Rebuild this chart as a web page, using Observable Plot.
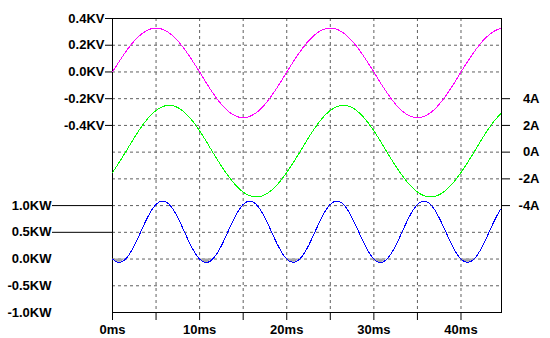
<!DOCTYPE html>
<html><head><meta charset="utf-8">
<script src="https://cdn.jsdelivr.net/npm/d3@7"></script>
<script src="https://cdn.jsdelivr.net/npm/@observablehq/plot@0.6"></script>
<style>
body{margin:0;background:#fff;}
#chart{position:relative;width:550px;height:338px;background:#fff;}
#chart svg{position:absolute;left:0;top:0;}
</style></head><body><div id="chart"></div>
<script>
const timeMs = [0,0.5,1,1.5,2,2.5,3,3.5,4,4.5,5,5.5,6,6.5,7,7.5,8,8.5,9,9.5,
10,10.5,11,11.5,12,12.5,13,13.5,14,14.5,15,15.5,16,16.5,17,17.5,18,18.5,19,19.5,
20,20.5,21,21.5,22,22.5,23,23.5,24,24.5,25,25.5,26,26.5,27,27.5,28,28.5,29,29.5,
30,30.5,31,31.5,32,32.5,33,33.5,34,34.5,35,35.5,36,36.5,37,37.5,38,38.5,39,39.5,
40,40.5,41,41.5,42,42.5,43,43.5,44,44.5,45];

const voltageKV = [0,0.051,0.101,0.149,0.193,0.232,0.265,0.292,0.312,0.324,0.328,0.324,0.312,0.292,0.265,0.232,0.193,0.149,0.101,0.051,
0,-0.054,-0.106,-0.155,-0.201,-0.242,-0.277,-0.305,-0.325,-0.338,-0.342,-0.338,-0.325,-0.305,-0.277,-0.242,-0.201,-0.155,-0.106,-0.054,
0,0.051,0.101,0.149,0.193,0.232,0.265,0.292,0.312,0.324,0.328,0.324,0.312,0.292,0.265,0.232,0.193,0.149,0.101,0.051,
0,-0.054,-0.106,-0.155,-0.201,-0.242,-0.277,-0.305,-0.325,-0.338,-0.342,-0.338,-0.325,-0.305,-0.277,-0.242,-0.201,-0.155,-0.106,-0.054,
0,0.051,0.101,0.149,0.193,0.232,0.265,0.292,0.312,0.324,0.328];

const currentA = [-1.521,-1.035,-0.524,0,0.547,1.082,1.589,2.057,2.475,2.832,3.119,3.329,3.457,3.5,3.457,3.329,3.119,2.832,2.475,2.057,
1.589,1.082,0.547,0,-0.524,-1.035,-1.521,-1.969,-2.369,-2.71,-2.985,-3.186,-3.309,-3.35,-3.309,-3.186,-2.985,-2.71,-2.369,-1.969,
-1.521,-1.035,-0.524,0,0.547,1.082,1.589,2.057,2.475,2.832,3.119,3.329,3.457,3.5,3.457,3.329,3.119,2.832,2.475,2.057,
1.589,1.082,0.547,0,-0.524,-1.035,-1.521,-1.969,-2.369,-2.71,-2.985,-3.186,-3.309,-3.35,-3.309,-3.186,-2.985,-2.71,-2.369,-1.969,
-1.521,-1.035,-0.524,0,0.547,1.082,1.589,2.057,2.475,2.832,3.119];

const powerKW = [0,-0.053,-0.053,0,0.106,0.251,0.422,0.601,0.772,0.918,1.023,1.079,1.079,1.023,0.918,0.772,0.601,0.422,0.251,0.106,
0,-0.058,-0.058,0,0.105,0.25,0.421,0.6,0.771,0.915,1.021,1.076,1.076,1.021,0.916,0.77,0.6,0.421,0.25,0.105,
0,-0.053,-0.053,0,0.106,0.251,0.422,0.601,0.772,0.918,1.023,1.079,1.079,1.023,0.918,0.772,0.601,0.422,0.251,0.106,
0,-0.058,-0.058,0,0.105,0.25,0.421,0.6,0.771,0.915,1.021,1.076,1.076,1.021,0.916,0.77,0.6,0.421,0.25,0.105,
0,-0.053,-0.053,0,0.106,0.251,0.422,0.601,0.772,0.918,1.023];

const xTicks = [0,5,10,15,20,25,30,35,40];
const xTickLabels = ["0ms","","10ms","","20ms","","30ms","","40ms"];
const gridTime = [5,10,15,20,25,30,35,40];
const gridVoltage = [0.2,0,-0.2,-0.4,-0.6,-0.8,-1.0,-1.2,-1.4,-1.6];
const voltageTicks = [0.4,0.2,0,-0.2,-0.4];
const voltageTickLabels = ["0.4KV","0.2KV","0.0KV","-0.2KV","-0.4KV"];
const currentTicks = [4,2,0,-2,-4];
const currentTickLabels = ["4A","2A","0A","-2A","-4A"];
const powerTicksLong = [1.0,0.5];
const powerTicksLongLabels = ["1.0KW","0.5KW"];
const powerTicksBare = [0,-0.5,-1.0];
const powerTicksBareLabels = ["0.0KW","-0.5KW","-1.0KW"];

const rows = timeMs.map((t,i)=>({t, v: voltageKV[i], c: currentA[i], p: powerKW[i]}));

const font = {fontFamily:"'Liberation Sans', Arial, sans-serif", fontSize:"13px", fontWeight:"bold"};
const base = {
  width:550, height:338, marginLeft:112, marginRight:49, marginTop:18, marginBottom:26,
  x:{domain:[0,44.65], axis:null, label:null}
};
const lab = (vals, labels) => d => labels[vals.indexOf(d)];
const gridStyle = {stroke:"#606060", strokeOpacity:1, strokeDasharray:"3,3"};

const pV = Plot.plot({
  ...base,
  style:{...font, background:"#fff", overflow:"visible"},
  y:{domain:[-1.8,0.4], axis:null, label:null},
  marks:[
    Plot.gridX(gridTime, gridStyle),
    Plot.gridY(gridVoltage, gridStyle),
    Plot.frame({stroke:"black"}),
    Plot.axisX(xTicks, {anchor:"bottom", tickSize:8, tickPadding:4, tickFormat: lab(xTicks, xTickLabels), label:null, fontWeight:"bold"}),
    Plot.axisY(voltageTicks, {anchor:"left", tickSize:7, tickPadding:1, tickFormat: lab(voltageTicks, voltageTickLabels), label:null, fontWeight:"bold"}),
    Plot.line(rows, {x:"t", y:"v", stroke:"#ff00ff", strokeWidth:1, curve:"catmull-rom", clip:true, shapeRendering:"crispEdges"})
  ]
});

const pI = Plot.plot({
  ...base,
  style:{...font, background:"transparent", overflow:"visible"},
  y:{domain:[-12,10], axis:null, label:null},
  marks:[
    Plot.axisY(currentTicks, {anchor:"right", tickSize:8, tickPadding:30, textAnchor:"end", tickFormat: lab(currentTicks, currentTickLabels), label:null, fontWeight:"bold"}),
    Plot.line(rows, {x:"t", y:"c", stroke:"#00ff00", strokeWidth:1, curve:"catmull-rom", clip:true, shapeRendering:"crispEdges"})
  ]
});

const pP = Plot.plot({
  ...base,
  style:{...font, background:"transparent", overflow:"visible"},
  y:{domain:[-1,4.5], axis:null, label:null},
  marks:[
    Plot.axisY(powerTicksLong, {anchor:"left", tickSize:60, tickPadding:1, tickFormat: lab(powerTicksLong, powerTicksLongLabels), label:null, fontWeight:"bold"}),
    Plot.axisY(powerTicksBare, {anchor:"left", tickSize:0, tickPadding:61, tickFormat: lab(powerTicksBare, powerTicksBareLabels), label:null, fontWeight:"bold"}),
    Plot.areaY(rows, {x:"t", y1:0, y2: d => Math.min(d.p, 0), fill:"#a8a8a8", curve:"catmull-rom", clip:true}),
    Plot.line(rows, {x:"t", y:"p", stroke:"#0000ff", strokeWidth:1, curve:"catmull-rom", clip:true, shapeRendering:"crispEdges"})
  ]
});

const chart = document.getElementById("chart");
chart.append(pV, pI, pP);
</script>
</body></html>
